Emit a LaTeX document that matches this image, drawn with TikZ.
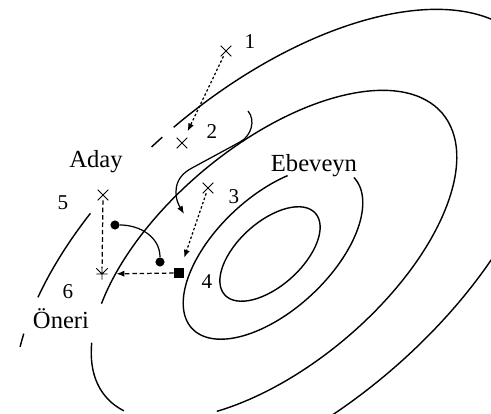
\documentclass[tikz,border=0pt]{standalone}
\usepackage{fontspec}
\setmainfont{Liberation Serif}
\usetikzlibrary{arrows.meta,shapes.misc}

\tikzset{
  contour/.style={line width=0.8pt},
  pointx/.style={cross out, draw, line width=0.55pt, minimum size=5.5pt, inner sep=0pt},
  pointstar/.style={minimum size=6pt, inner sep=0pt},
  blob/.style={circle, fill, minimum size=5.2pt, inner sep=0pt},
  box/.style={fill, minimum size=5.6pt, inner sep=0pt},
  num/.style={font=\fontsize{12}{12}\selectfont, inner sep=0pt},
  lbl/.style={font=\fontsize{14}{14}\selectfont, inner sep=0pt},
  tip/.style={-{Latex[length=4.5pt,width=3.5pt]}},
  dotarrow/.style={line width=0.7pt, dash pattern=on 1.4pt off 1.2pt, tip},
  dasharrow/.style={line width=0.7pt, dash pattern=on 2.6pt off 1.6pt, tip},
  dashline/.style={line width=0.7pt, dash pattern=on 2.6pt off 1.6pt},
}

\begin{document}
\begin{tikzpicture}[x=0.2mm, y=-0.2mm]
    \useasboundingbox (0,0) rectangle (491,414);

    % Kontur cizgileri
    \begin{scope}
      \clip (0,0) rectangle (491,414);
      \begin{scope}[shift={(270,254)}, rotate=42]
        \draw[contour] (0,0) ellipse [x radius=61, y radius=32];
      \end{scope}
      \begin{scope}[shift={(273,253)}, rotate=43]
        \draw[contour] (0:110.7 and 56.9) arc [start angle=0, end angle=305, x radius=110.7, y radius=56.9];
      \end{scope}
      \begin{scope}[shift={(274,255)}, rotate=40]
        \draw[contour] (168:220 and 110) arc [start angle=168, end angle=207, x radius=220, y radius=110];
        \draw[contour] (222:220 and 110) arc [start angle=222, end angle=491, x radius=220, y radius=110];
      \end{scope}
      \begin{scope}[shift={(281,250)}, rotate=40]
        \draw[contour] (215:320 and 163) arc [start angle=215, end angle=218.4, x radius=320, y radius=163];
        \draw[contour] (227.4:320 and 163) arc [start angle=227.4, end angle=247.5, x radius=320, y radius=163];
        \draw[contour] (264.1:320 and 163) arc [start angle=264.1, end angle=266.7, x radius=320, y radius=163];
        \draw[contour] (269.4:320 and 163) arc [start angle=269.4, end angle=470, x radius=320, y radius=163];
      \end{scope}
    \end{scope}

    % Noktalar
    \node[pointx] (p1) at (226,51) {};
    \node[pointx] (p2) at (182,143) {};
    \node[pointx] (p3) at (208,188) {};
    \node[box] (p4) at (179,273) {};
    \node[pointx] (p5) at (103,195) {};
    \node[pointstar] (p6) at (102,274) {};
    \draw[line width=0.55pt] (p6.west) -- (p6.east) (p6.north) -- (p6.south)
        (p6.north west) -- (p6.center) -- (p6.north east);
    \node[blob] (c1) at (115,225) {};
    \node[blob] (c2) at (160,262) {};

    % Oklar
    \draw[dotarrow, shorten >=4pt] (p1) -- (p2);
    \draw[dotarrow, shorten >=6pt] (p3) -- (p4);
    \draw[dasharrow, shorten >=5pt] (p4) -- (p6);
    \draw[dashline] (p5) -- (p6);
    \draw[line width=0.7pt] (c1) to[out=0, in=90] (c2);

    \coordinate (h0) at (248,111);
    \coordinate (h1) at (240,142);
    \coordinate (h2) at (192,168);
    \coordinate (h3) at (176,192);
    \coordinate (h4) at (184,214);
    \draw[line width=0.7pt, tip] (h0) to[out=-50, in=28] (h1) -- (h2)
        to[out=208, in=90] (h3) to[out=-90, in=120] (h4);

    % Etiketler
    \node[num] (n1) at (250,42) {1};
    \node[num] (n2) at (212,132) {2};
    \node[num] (n3) at (234,197) {3};
    \node[num] (n4) at (207,282) {4};
    \node[num] (n5) at (63,203) {5};
    \node[num] (n6) at (68,292) {6};
    \node[lbl] (aday) at (96,162) {Aday};
    \node[lbl] (ebeveyn) at (314,166) {Ebeveyn};
    \node[lbl] (oneri) at (61,319) {Öneri};
\end{tikzpicture}
\end{document}
